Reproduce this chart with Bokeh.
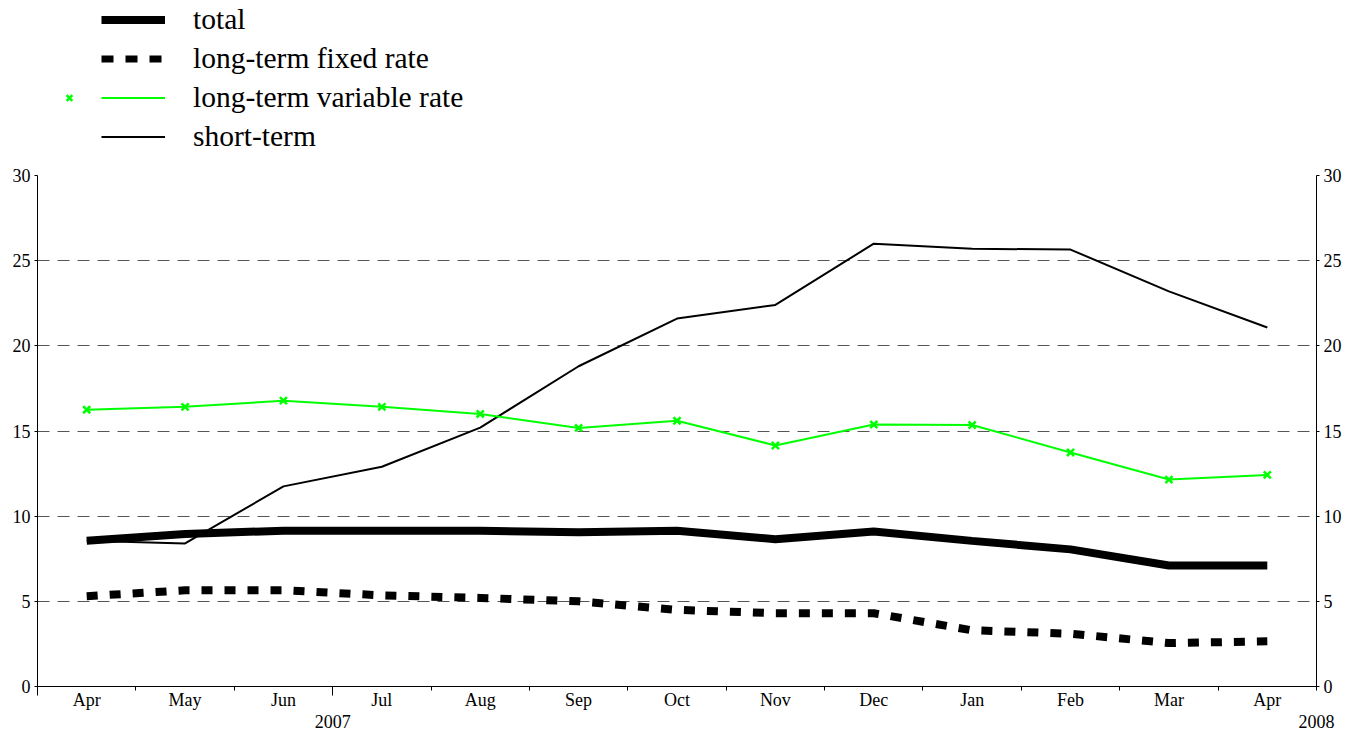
from bokeh.plotting import figure
from bokeh.models import (LinearAxis, FixedTicker, Legend, LegendItem, Range1d)
from bokeh.layouts import column
from bokeh.embed import file_html
from bokeh.resources import INLINE

months = ["Apr", "May", "Jun", "Jul", "Aug", "Sep", "Oct", "Nov", "Dec", "Jan", "Feb", "Mar", "Apr"]
years = {2.5: "2007", 12.5: "2008"}
total = [8.55, 8.95, 9.15, 9.15, 9.15, 9.05, 9.15, 8.65, 9.1, 8.55, 8.05, 7.1, 7.1]
fixed_rate = [5.3, 5.65, 5.65, 5.35, 5.2, 5.0, 4.5, 4.3, 4.3, 3.3, 3.1, 2.55, 2.65]
variable_rate = [16.25, 16.42, 16.78, 16.42, 16.0, 15.18, 15.6, 14.15, 15.38, 15.35, 13.74, 12.15, 12.42]
short_term = [8.55, 8.4, 11.75, 12.9, 15.2, 18.8, 21.6, 22.4, 26.0, 25.7, 25.65, 23.2, 21.08]
series_names = ["total", "long-term fixed rate", "long-term variable rate", "short-term"]
yticks = [0, 5, 10, 15, 20, 25, 30]

x = list(range(len(months)))
boundaries = [i - 0.5 for i in range(len(months) + 1)]
FONT = "Liberation Serif"
GREEN = "#00ff00"

# ---------- main chart ----------
p = figure(frame_width=1279, frame_height=511, output_backend="svg", toolbar_location=None,
           x_range=Range1d(-0.5, 12.5), y_range=Range1d(0, 30),
           min_border_left=37, min_border_top=15, min_border_right=42, min_border_bottom=20)
p.outline_line_color = None
p.background_fill_color = "white"
p.border_fill_color = "white"

p.xgrid.visible = False
p.ygrid.ticker = FixedTicker(ticks=yticks)
p.ygrid.grid_line_color = "#555555"
p.ygrid.grid_line_dash = "12 8"
p.ygrid.grid_line_width = 1

# axis A: baseline with ticks at category boundaries (long ones at period starts)
xa = p.xaxis[0]
xa.ticker = FixedTicker(ticks=[-0.5, 2.5], minor_ticks=boundaries)
xa.major_tick_out = 9
xa.major_tick_in = 0
xa.minor_tick_out = 4
xa.minor_tick_in = 0
xa.major_tick_line_color = "black"
xa.minor_tick_line_color = "black"
xa.axis_line_color = "black"
xa.major_label_standoff = 0
xa.major_label_text_font_size = "0px"
xa.major_label_overrides = {-0.5: "", 2.5: ""}

# axis B: month labels
mb = LinearAxis(ticker=FixedTicker(ticks=x), major_label_overrides={i: m for i, m in enumerate(months)})
mb.axis_line_color = None
mb.major_tick_line_color = None
mb.minor_tick_line_color = None
mb.major_tick_out = 0
mb.major_label_standoff = -6
mb.major_label_text_font = FONT
mb.major_label_text_font_size = "18px"
mb.major_label_text_color = "black"
p.add_layout(mb, "below")

# axis C: years
yr = LinearAxis(ticker=FixedTicker(ticks=list(years.keys())), major_label_overrides=years)
yr.axis_line_color = None
yr.major_tick_line_color = None
yr.minor_tick_line_color = None
yr.major_tick_out = 0
yr.major_label_standoff = 2
yr.major_label_text_font = FONT
yr.major_label_text_font_size = "18px"
yr.major_label_text_color = "black"
p.add_layout(yr, "below")

la = p.yaxis[0]
ra = LinearAxis()
p.add_layout(ra, "right")
for ax in (la, ra):
    ax.ticker = FixedTicker(ticks=yticks)
    ax.major_tick_out = 3
    ax.major_tick_in = 0
    ax.minor_tick_line_color = None
    ax.axis_line_color = "black"
    ax.major_tick_line_color = "black"
    ax.major_label_standoff = 4
    ax.major_label_text_font = FONT
    ax.major_label_text_font_size = "18px"
    ax.major_label_text_color = "black"

p.line(x, short_term, line_color="black", line_width=2)
p.line(x, variable_rate, line_color=GREEN, line_width=2)
p.scatter(x, variable_rate, marker="x", size=10, line_color=GREEN, line_width=2.5)
p.line(x, fixed_rate, line_color="black", line_width=8, line_dash="11 12")
p.line(x, total, line_color="black", line_width=8)

# ---------- legend strip ----------
lf = figure(width=1358, height=160, output_backend="svg", toolbar_location=None,
            x_axis_location=None, y_axis_location=None, min_border=0,
            x_range=Range1d(0, 1), y_range=Range1d(0, 1))
lf.outline_line_color = None
lf.grid.visible = False
off = [5, 6]  # off-screen samples so that the legend swatches get styles
d_total = lf.line(off, off, line_color="black", line_width=8)
d_fixed = lf.line(off, off, line_color="black", line_width=7, line_dash="12 12")
d_var = lf.line(off, off, line_color=GREEN, line_width=2)
d_short = lf.line(off, off, line_color="black", line_width=2)
d_mark = lf.scatter(off, off, marker="x", size=10, line_color=GREEN, line_width=2.5)

legend = Legend(items=[
    LegendItem(label=series_names[0], renderers=[d_total]),
    LegendItem(label=series_names[1], renderers=[d_fixed]),
    LegendItem(label=series_names[2], renderers=[d_var]),
    LegendItem(label=series_names[3], renderers=[d_short]),
], location=(64, 7))
mlegend = Legend(items=[LegendItem(label=" ", renderers=[d_mark])], location=(22, 46))
for lg in (legend, mlegend):
    lg.background_fill_alpha = 0
    lg.border_line_color = None
    lg.padding = 0
    lg.margin = 0
    lg.spacing = 6
    lg.label_height = 33
    lg.glyph_height = 33
    lg.label_text_font = FONT
    lg.label_text_font_size = "29.5px"
    lg.label_text_color = "black"
legend.glyph_width = 64
legend.label_standoff = 28
mlegend.glyph_width = 20
mlegend.label_standoff = 0
lf.add_layout(legend, "center")
lf.add_layout(mlegend, "center")

layout = column(lf, p, spacing=0)
open("out.html", "w").write(file_html(layout, INLINE))
